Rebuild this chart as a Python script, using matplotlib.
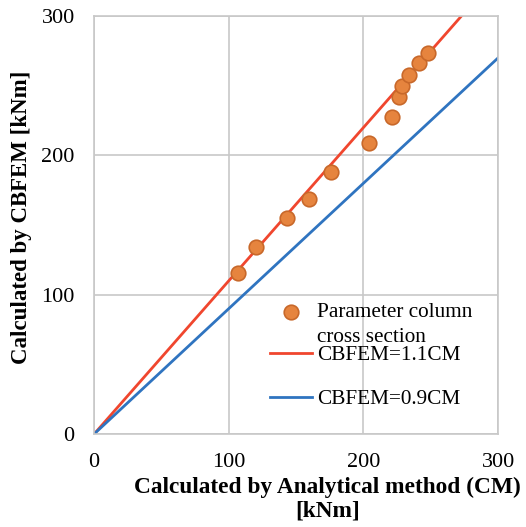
import matplotlib.pyplot as plt
from matplotlib.lines import Line2D
import numpy as np

plt.rcParams['font.family'] = ['Liberation Serif', 'DejaVu Serif']

# values
cm = [106.7, 120.5, 143.0, 159.5, 176.0, 204.2, 221.2, 226.2, 228.9, 233.8, 241.0, 247.9]
cbfem = [115.8, 134.5, 154.8, 168.7, 187.9, 208.7, 227.8, 241.7, 249.8, 257.7, 266.1, 273.7]
ticks = [0, 100, 200, 300]

fig = plt.figure(figsize=(5.26, 5.27), dpi=100)
ax = fig.add_axes([0.179, 0.1765, 0.768, 0.793])

xl = np.array([0, 300])
l1, = ax.plot(xl, 1.1 * xl, color='#F0462E', lw=2, zorder=2)
l2, = ax.plot(xl, 0.9 * xl, color='#2F74C0', lw=2, zorder=2)
sc = ax.scatter(cm, cbfem, s=110, color='#E6843E', edgecolors='#C8682A', lw=1.2, zorder=3)

ax.set_xlim(0, 300)
ax.set_ylim(0, 300)
ax.set_xticks(ticks)
ax.set_yticks(ticks)
ax.tick_params(labelsize=16, length=0, pad=14)
ax.grid(True, color='#C8C8C8', lw=1.2)
ax.set_axisbelow(True)
for s in ax.spines.values():
    s.set_color('#C8C8C8')
    s.set_linewidth(1.2)

ax.set_xlabel('Calculated by Analytical method (CM)\n[kNm]', fontsize=16.8,
              fontweight='bold', linespacing=1.15, va='top')
ax.xaxis.set_label_coords(0.577, -0.102)
ax.set_ylabel('Calculated by CBFEM [kNm]', fontsize=16.5, fontweight='bold')
ax.yaxis.set_label_coords(-0.155, 0.519)

# legend drawn as two blocks to follow the reference's uneven row spacing
blank = Line2D([], [], linestyle='none')
leg1 = ax.legend([sc, blank], ['Parameter column', 'cross section'],
                 loc='upper left', bbox_to_anchor=(0.513, 0.426),
                 bbox_transform=fig.transFigure, frameon=False, fontsize=15.3,
                 handlelength=2.0, handletextpad=0.24, labelspacing=0.24,
                 borderpad=0, borderaxespad=0)
ax.add_artist(leg1)
ax.legend([l1, l2], ['CBFEM=1.1CM', 'CBFEM=0.9CM'],
          loc='upper left', bbox_to_anchor=(0.513, 0.3445),
          bbox_transform=fig.transFigure, frameon=False, fontsize=15.3,
          handlelength=2.0, handletextpad=0.24, labelspacing=1.13,
          borderpad=0, borderaxespad=0)

fig.savefig('out.png', dpi=100)
